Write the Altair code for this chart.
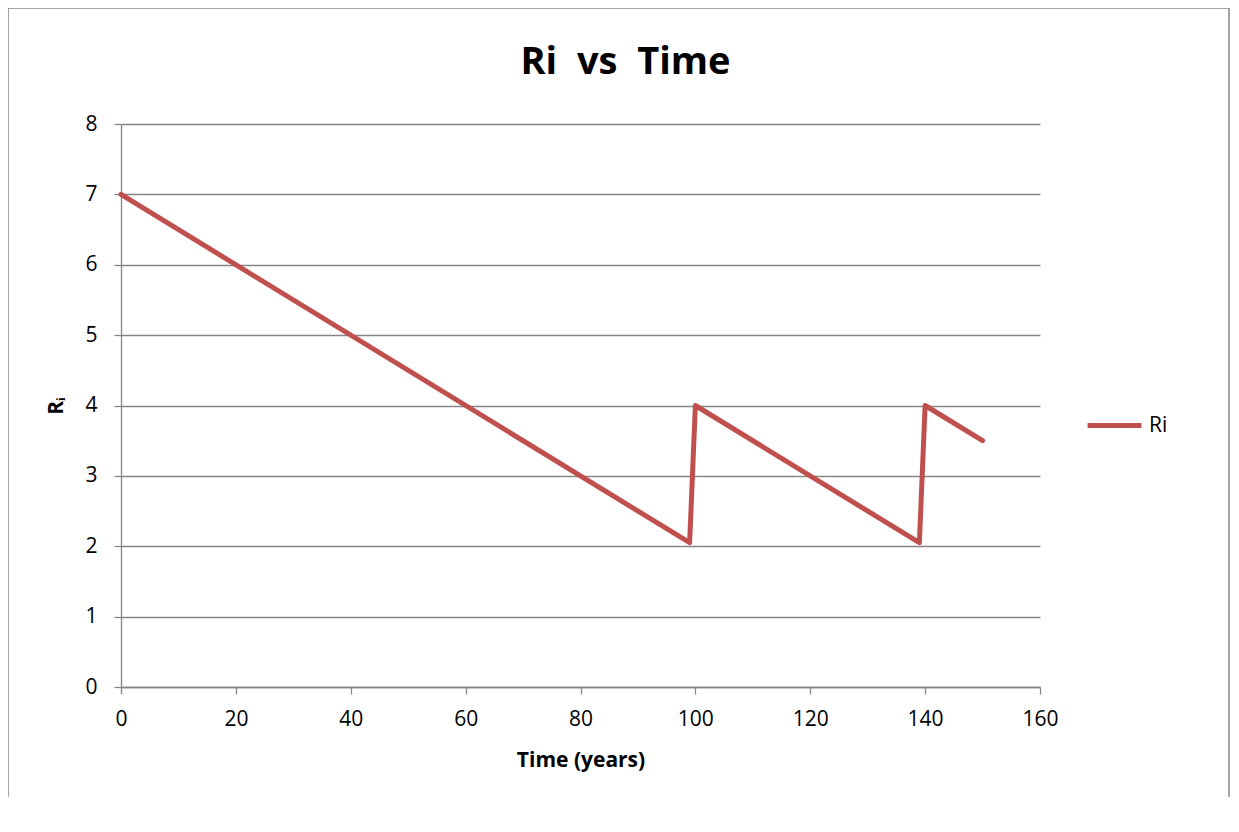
import altair as alt
import pandas as pd

years = [0, 98, 99, 100, 139, 140, 150]
ri_values = [7.0, 2.1, 2.05, 4.0, 2.05, 4.0, 3.5]
series = ["Ri"] * len(years)

df = pd.DataFrame({"Time": years, "Ri": ri_values, "Series": series})

FONT = "Open Sans"
GRID = "#868686"
RED = "#C0504D"

line = alt.Chart(df).mark_line(strokeWidth=5, strokeCap="round", strokeJoin="round").encode(
    x=alt.X("Time:Q", scale=alt.Scale(domain=[0, 160], nice=False),
            axis=alt.Axis(title="Time (years)", values=list(range(0, 161, 20)), grid=False,
                          tickSize=7, labelPadding=14, titlePadding=20, labelFlush=False)),
    y=alt.Y("Ri:Q", scale=alt.Scale(domain=[0, 8], nice=False),
            axis=alt.Axis(title="Rᵢ", values=list(range(0, 9)), grid=True,
                          tickSize=7, labelPadding=17, titlePadding=18)),
    color=alt.Color("Series:N", scale=alt.Scale(domain=["Ri"], range=[RED]),
                    legend=alt.Legend(title=None, orient="none", legendX=964, legendY=272,
                                      symbolType="stroke", symbolSize=2900, symbolStrokeWidth=5,
                                      labelFontSize=21, labelFont=FONT, labelColor="#000000",
                                      labelOffset=5)),
    order=alt.Order("Time:Q"),
)

frame = alt.Chart(pd.DataFrame({"k": [0]})).mark_rect(
    fill=None, stroke="#888888", strokeWidth=1.5
).encode(
    x=alt.value(-113), x2=alt.value(1108), y=alt.value(-116), y2=alt.value(760)
)

chart = alt.layer(frame, line).properties(
    width=919, height=563,
    padding={"left": 113, "top": 116, "right": 191, "bottom": 110},
    autosize=alt.AutoSizeParams(type="none"),
    title=alt.TitleParams("Ri\u00a0\u00a0vs\u00a0\u00a0Time", fontSize=38, font=FONT,
                          fontWeight="bold", color="#000000", dx=45, offset=-75),
).configure_view(stroke=None).configure_axis(
    domainColor=GRID, tickColor=GRID, gridColor=GRID, domainWidth=1.3, tickWidth=1.3,
    gridWidth=1.3, labelFont=FONT, labelFontSize=21, labelColor="#000000",
    titleFont=FONT, titleFontSize=21, titleFontWeight="bold", titleColor="#000000",
)

chart.save("out.html", embed_options={"renderer": "svg", "actions": False})
